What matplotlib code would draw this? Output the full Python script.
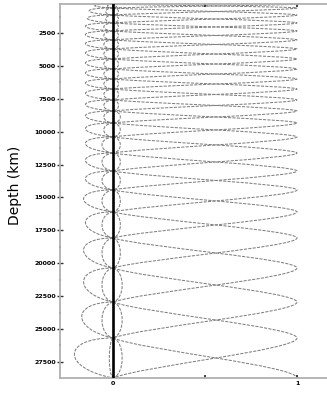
import numpy as np
import matplotlib.pyplot as plt
from matplotlib.path import Path
from matplotlib.patches import PathPatch

# depths (km) where all the curves meet the zero line
node_depth = [300, 600, 1140, 1740, 2350, 3030, 3720, 4480, 5240, 6000, 6760,
              7590, 8430, 9340, 10400, 11620, 12990, 14430, 16100, 18080,
              20360, 22950, 25680, 28720]
# how far the big left loop reaches in each interval (top to bottom)
outer_amp = [0.10, 0.13, 0.14, 0.15, 0.15, 0.15, 0.15, 0.15, 0.15, 0.15, 0.15,
             0.15, 0.15, 0.15, 0.15, 0.15, 0.15, 0.16, 0.15, 0.16, 0.16, 0.17,
             0.21]
inner_left_amp = [0.03, 0.04, 0.04, 0.05, 0.05, 0.05, 0.05, 0.05, 0.05, 0.05,
                  0.05, 0.05, 0.05, 0.05, 0.06, 0.06, 0.06, 0.06, 0.06, 0.06,
                  0.06, 0.06, 0.02]
inner_right_amp = [0.02, 0.03, 0.03, 0.03, 0.03, 0.03, 0.03, 0.03, 0.03, 0.03,
                   0.03, 0.03, 0.04, 0.04, 0.04, 0.04, 0.04, 0.04, 0.04, 0.04,
                   0.05, 0.05, 0.05]
right_peak = 1.0
cross_x = 0.56

depth_ticks = [2500, 5000, 7500, 10000, 12500, 15000, 17500, 20000, 22500,
               25000, 27500]

fig = plt.figure(figsize=(3.27, 3.93), dpi=100)
ax = fig.add_axes([60 / 327, 15 / 393, 267 / 327, 374 / 393])

dash_kw = dict(fill=False, edgecolor='#808080', lw=0.75, ls=(0, (3, 1.2)))

# control offset near the zero end so the two swings cross at cross_x
lo_ctrl = (cross_x - 0.125 * right_peak - 0.375 * right_peak) / 0.375


def swing_path(start_x):
    # curve hopping between 0 and right_peak from one node to the next
    verts = [(start_x, node_depth[0])]
    codes = [Path.MOVETO]
    x0 = start_x
    for y0, y1 in zip(node_depth[:-1], node_depth[1:]):
        x1 = right_peak - x0
        h = y1 - y0
        c0 = lo_ctrl if x0 == 0 else x0
        c1 = lo_ctrl if x1 == 0 else x1
        verts += [(c0, y0 + 0.3 * h), (c1, y1 - 0.3 * h), (x1, y1)]
        codes += [Path.CURVE4] * 3
        x0 = x1
    return Path(verts, codes)


def loop_path(amps, f1, f2, side):
    verts, codes = [], []
    for a, y0, y1 in zip(amps, node_depth[:-1], node_depth[1:]):
        h = y1 - y0
        k = side * a * 4 / 3
        verts += [(0, y0), (k, y0 + f1 * h), (k, y0 + f2 * h), (0, y1)]
        codes += [Path.MOVETO, Path.CURVE4, Path.CURVE4, Path.CURVE4]
    return Path(verts, codes)


ax.add_patch(PathPatch(swing_path(0.0), **dash_kw))
ax.add_patch(PathPatch(swing_path(right_peak), **dash_kw))
ax.add_patch(PathPatch(loop_path(outer_amp, 0.0, 0.75, -1), **dash_kw))
ax.add_patch(PathPatch(loop_path(inner_left_amp, 0.1, 0.9, -1), **dash_kw))
ax.add_patch(PathPatch(loop_path(inner_right_amp, 0.1, 0.9, 1), **dash_kw))

ax.axvline(0, color='black', lw=1.9, zorder=5)

ax.set_xlim(-0.288, 1.163)
ax.set_ylim(28720, 300)

for side in ['left', 'top', 'bottom']:
    ax.spines[side].set_color('#b0b0b0')
    ax.spines[side].set_linewidth(1.3)
ax.spines['right'].set_visible(False)

ax.set_yticks(depth_ticks)
ax.set_yticklabels([str(t) for t in depth_ticks], fontsize=4.5, fontweight='bold')
ax.set_yticks([t - 1250 for t in depth_ticks], minor=True)
ax.tick_params(axis='y', which='major', direction='inout', length=4, width=1.0,
               color='#333333', pad=1)
ax.tick_params(axis='y', which='minor', direction='inout', length=1.5, width=1.2,
               color='#333333')

ax.set_xticks([0, 0.5, 1])
ax.set_xticklabels(['0', '', '1'], fontsize=4.5, fontweight='bold')
ax.tick_params(axis='x', which='major', direction='in', length=2.5, width=1.2,
               color='#222222', top=True, pad=2.5)

ax.set_ylabel('Depth (km)', fontsize=10)
ax.yaxis.set_label_coords(-0.142, 0.516)

fig.savefig('out.png', dpi=100)
